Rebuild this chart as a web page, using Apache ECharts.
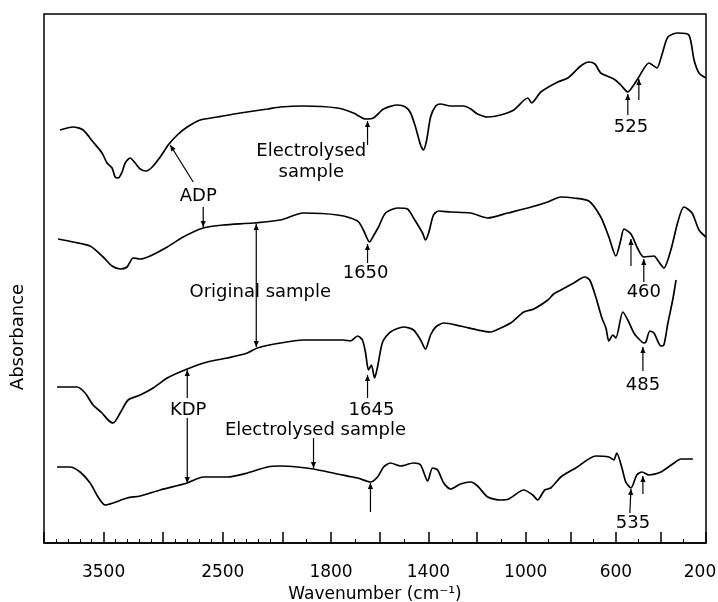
<!DOCTYPE html>
<html><head><meta charset="utf-8">
<script src="https://cdn.jsdelivr.net/npm/echarts@6/dist/echarts.min.js"></script>
<style>html,body{margin:0;padding:0;background:#fff}#c{width:718px;height:602px}</style>
</head><body><div id="c"></div>
<script>
const FONT = 'DejaVu Sans';

// Tick labels (wavenumber, cm^-1)
const labelWavenumbers = [3500, 2500, 1800, 1400, 1000, 600, 200];
const majorTickWavenumbers = [4000, 3500, 3000, 2500, 2000, 1800, 1600, 1400, 1200, 1000, 800, 600, 400, 200];

// Spectra: [wavenumber (cm^-1), absorbance (arbitrary, offset traces)]
const adpElectrolysed = [
[3866,413],[3756,416],[3672,413],[3588,401],[3513,390],[3471,380],[3429,375],[3403,366],[3378,365],[3345,371],
[3319,380],[3277,385],[3235,380],[3193,374],[3143,372],[3092,376],[3025,386],[2958,398],[2882,408],[2798,416],
[2689,423],[2546,426],[2353,430],[2126,434],[2017,436],[1914,437],[1774,435],[1708,430],[1658,424],[1626,425],
[1584,434],[1527,438],[1494,436],[1473,430],[1453,416],[1432,398],[1420,393],[1407,403],[1391,426],[1370,437],
[1350,439],[1309,437],[1255,437],[1226,434],[1198,429],[1156,426],[1103,428],[1049,433],[991,445],[973,440],
[960,443],[933,451],[858,461],[813,465],[756,477],[720,481],[693,479],[667,470],[609,464],[578,458],
[547,451],[524,457],[498,466],[453,480],[418,475],[396,488],[369,506],[325,510],[276,508],[253,483],[231,470],[200,465]
];
const adpOriginal = [
[3882,304],[3756,301],[3613,297],[3504,286],[3429,277],[3361,274],[3303,276],[3252,285],[3193,284],[3109,287],
[2966,296],[2832,306],[2664,315],[2496,318],[2244,320],[2017,323],[1914,330],[1774,328],[1691,322],[1667,313],
[1642,301],[1626,307],[1605,316],[1576,330],[1527,335],[1486,334],[1461,325],[1424,310],[1412,303],[1399,310],
[1379,328],[1358,332],[1309,331],[1226,330],[1156,325],[1074,330],[991,335],[902,341],[844,346],[787,345],
[720,342],[667,326],[631,306],[600,287],[578,303],[564,314],[533,309],[502,294],[476,286],[431,287],
[409,281],[387,275],[356,293],[325,321],[298,336],[262,330],[231,313],[200,306]
];
const kdpOriginal = [
[3891,156],[3723,156],[3655,150],[3588,138],[3513,130],[3462,123],[3420,120],[3361,130],[3294,143],[3193,148],
[3084,155],[2966,165],[2798,174],[2630,181],[2462,185],[2294,190],[2210,195],[2017,200],[1914,203],[1749,203],
[1720,202],[1691,207],[1671,203],[1658,190],[1646,173],[1634,178],[1621,165],[1609,176],[1588,201],[1556,211],
[1502,216],[1461,213],[1432,203],[1412,194],[1391,208],[1370,216],[1337,220],[1268,217],[1198,213],[1144,211],
[1103,215],[1062,220],[1008,231],[964,234],[902,243],[876,249],[844,253],[787,260],[738,266],[716,263],
[689,246],[662,225],[644,215],[631,202],[613,208],[600,205],[569,231],[547,223],[520,210],[502,205],
[476,200],[467,201],[449,212],[431,210],[400,197],[387,198],[369,220],[347,244],[333,263]
];
const kdpElectrolysed = [
[3891,76],[3782,76],[3697,71],[3613,60],[3546,46],[3487,38],[3420,40],[3303,45],[3193,47],[3025,53],
[2798,60],[2664,66],[2462,66],[2294,70],[2126,76],[2017,77],[1938,76],[1872,74],[1774,69],[1691,65],
[1638,61],[1609,66],[1584,76],[1556,80],[1514,77],[1461,80],[1432,78],[1403,62],[1383,75],[1362,73],
[1337,60],[1309,54],[1268,59],[1226,61],[1198,57],[1156,46],[1103,43],[1070,44],[1008,53],[969,48],
[947,43],[916,53],[889,55],[844,66],[778,75],[689,87],[631,86],[609,83],[596,90],[573,75],
[556,61],[533,55],[507,68],[484,71],[453,68],[400,71],[342,80],[311,84],[258,84]
];

// Annotations in data coordinates [wavenumber, absorbance]
const annotationTexts = [
  {text: 'Electrolysed\nsample', at: [1881, 381]},
  {text: 'ADP', at: [2706, 347]},
  {text: '1650', at: [1658, 270]},
  {text: 'Original sample', at: [2185, 251]},
  {text: '1645', at: [1634, 133]},
  {text: 'KDP', at: [2790, 133]},
  {text: 'Electrolysed sample', at: [1864, 113]},
  {text: '525', at: [533, 416]},
  {text: '460', at: [476, 251]},
  {text: '485', at: [480, 158]},
  {text: '535', at: [524, 20]}
];
const annotationArrows = [
  {from: [1650, 398], to: [1650, 422]},
  {from: [2748, 361], to: [2941, 398]},
  {from: [2664, 336], to: [2664, 316]},
  {from: [1650, 280], to: [1650, 299]},
  {from: [2219, 196], to: [2219, 319], both: true},
  {from: [1650, 145], to: [1650, 168]},
  {from: [2798, 145], to: [2798, 173]},
  {from: [2798, 125], to: [2798, 60]},
  {from: [1872, 105], to: [1872, 75]},
  {from: [1638, 31], to: [1638, 60]},
  {from: [547, 428], to: [547, 449]},
  {from: [498, 443], to: [498, 464]},
  {from: [533, 277], to: [533, 304]},
  {from: [476, 261], to: [476, 284]},
  {from: [480, 172], to: [480, 196]},
  {from: [538, 30], to: [533, 54]},
  {from: [480, 49], to: [480, 67]}
];

// Recorder chart-paper scale: piecewise linear wavenumber axis
const SCALE_BREAKS = [4000, 2000, 1000, 200];
const SCALE_UNITS = [0, 238, 481, 661];
function toAxis(w) {
  const n = SCALE_BREAKS.length;
  for (let i = 0; i < n - 1; i++) {
    const a = SCALE_BREAKS[i], b = SCALE_BREAKS[i + 1];
    if ((w <= a && w >= b) || i === n - 2) {
      return SCALE_UNITS[i] + (a - w) / (a - b) * (SCALE_UNITS[i + 1] - SCALE_UNITS[i]);
    }
  }
}
const labelByAxis = {};
labelWavenumbers.forEach(w => { labelByAxis[toAxis(w).toFixed(3)] = String(w); });
const lastLabel = String(labelWavenumbers[labelWavenumbers.length - 1]);
const minorTicks = [];
for (let w = 3900; w > 200; w -= 100) {
  if (majorTickWavenumbers.indexOf(w) < 0) minorTicks.push(toAxis(w));
}

const mk = (name, arr) => ({
  name, type: 'line', xAxisIndex: 0, yAxisIndex: 0,
  data: arr.map(p => [toAxis(p[0]), p[1]]),
  showSymbol: false, smooth: 0.25, silent: true,
  lineStyle: {color: '#000', width: 1.7}
});

const chart = echarts.init(document.getElementById('c'), null, {renderer: 'canvas'});
chart.setOption({
  animation: false,
  backgroundColor: '#fff',
  grid: {left: 44, right: 12, top: 14, bottom: 59, outerBoundsMode: 'none', containLabel: false,
    show: true, borderColor: '#000', borderWidth: 1.5},
  xAxis: [{
    type: 'value', min: 0, max: 661, position: 'bottom',
    name: 'Wavenumber (cm⁻¹)', nameLocation: 'middle', nameGap: 40,
    nameTextStyle: {fontFamily: FONT, fontSize: 17, color: '#000'},
    axisLine: {show: true, lineStyle: {color: '#000', width: 1.5}},
    axisTick: {show: true, inside: true, length: 11, customValues: majorTickWavenumbers.map(toAxis), lineStyle: {color: '#000', width: 1.5}},
    axisLabel: {show: true, margin: 21, customValues: labelWavenumbers.map(toAxis), fontFamily: FONT, fontSize: 17, color: '#000',
      formatter: v => {
        const s = labelByAxis[Number(v).toFixed(3)] || '';
        return s === lastLabel ? '{edge|' + s + '}' : s;
      },
      rich: {edge: {fontFamily: FONT, fontSize: 17, color: '#000', padding: [0, 12, 0, 0]}}},
    splitLine: {show: false}
  }, {
    type: 'value', min: 0, max: 661, position: 'bottom',
    axisLine: {show: false},
    axisTick: {show: true, inside: true, length: 4, customValues: minorTicks, lineStyle: {color: '#000', width: 1}},
    axisLabel: {show: false}, splitLine: {show: false}
  }],
  yAxis: {
    type: 'value', min: 0, max: 529,
    axisLine: {show: false}, axisTick: {show: false}, axisLabel: {show: false}, splitLine: {show: false}
  },
  series: [
    mk('ADP electrolysed', adpElectrolysed),
    mk('ADP original', adpOriginal),
    mk('KDP original', kdpOriginal),
    mk('KDP electrolysed', kdpElectrolysed)
  ]
});

const px = p => chart.convertToPixel({xAxisIndex: 0, yAxisIndex: 0}, [toAxis(p[0]), p[1]]);
const graphics = [];
graphics.push({type: 'text', x: 18, y: 337, rotation: Math.PI / 2, silent: true,
  style: {text: 'Absorbance', fontFamily: FONT, fontSize: 18, fill: '#000', textAlign: 'center', textVerticalAlign: 'middle'}});
annotationTexts.forEach(t => {
  const p = px(t.at);
  graphics.push({type: 'text', x: p[0], y: p[1], silent: true,
    style: {text: t.text, fontFamily: FONT, fontSize: 18, lineHeight: 21, fill: '#000', textAlign: 'center', textVerticalAlign: 'middle'}});
});
function head(tip, tail) {
  const dx = tip[0] - tail[0], dy = tip[1] - tail[1];
  const L = Math.hypot(dx, dy) || 1, ux = dx / L, uy = dy / L;
  const len = 6, hw = 2.6;
  const bx = tip[0] - ux * len, by = tip[1] - uy * len;
  return {type: 'polygon', silent: true, shape: {points: [tip, [bx - uy * hw, by + ux * hw], [bx + uy * hw, by - ux * hw]]},
    style: {fill: '#000'}};
}
annotationArrows.forEach(a => {
  const f = px(a.from), t = px(a.to);
  graphics.push({type: 'line', silent: true, shape: {x1: f[0], y1: f[1], x2: t[0], y2: t[1]}, style: {stroke: '#000', lineWidth: 1.2}});
  graphics.push(head(t, f));
  if (a.both) graphics.push(head(f, t));
});
chart.setOption({graphic: graphics});
</script>
</body></html>
